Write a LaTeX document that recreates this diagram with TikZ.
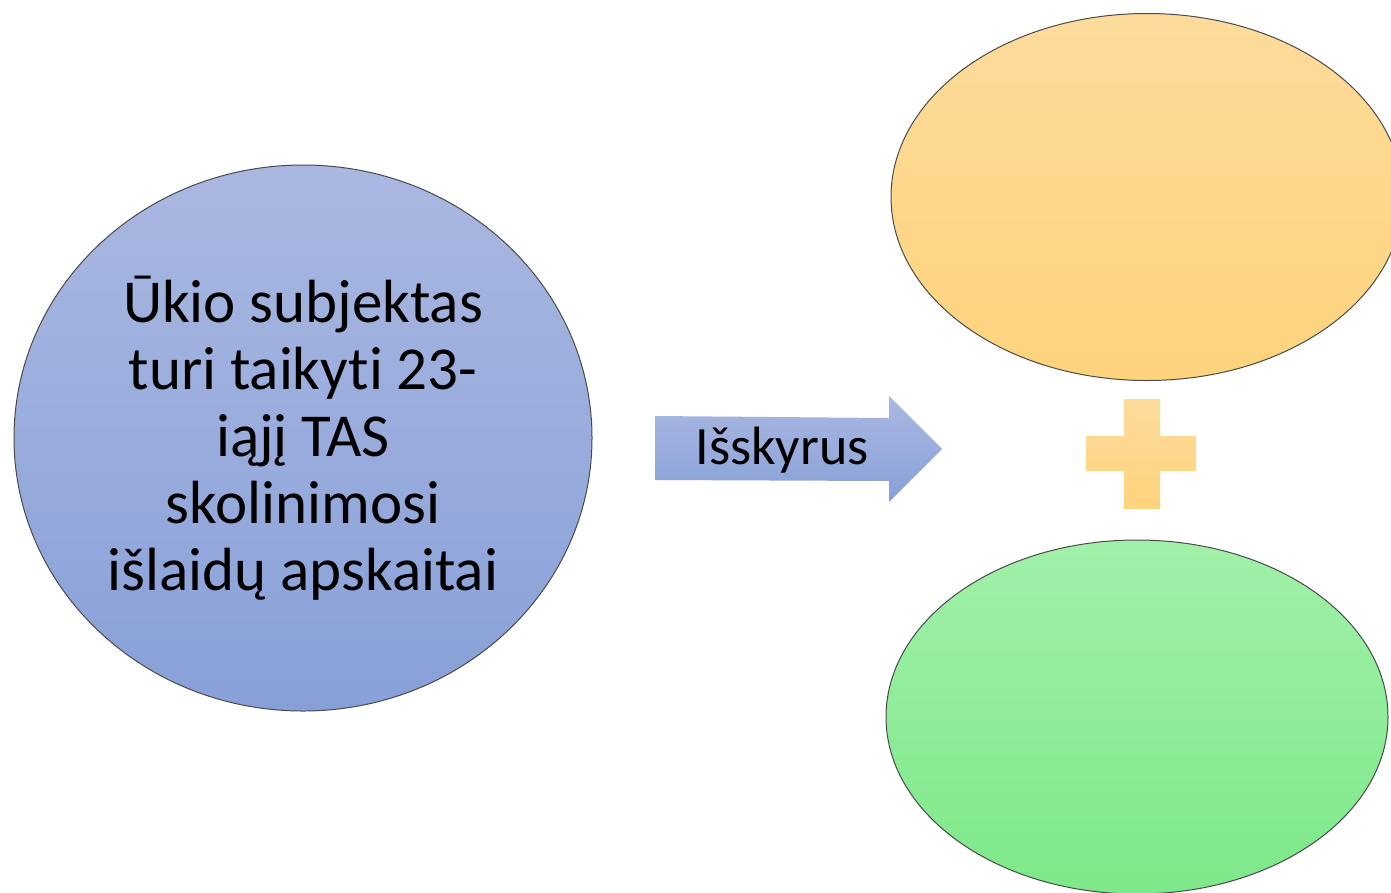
\documentclass[tikz,border=0pt]{standalone}
\usepackage{fontspec}
\setmainfont{Carlito}[Ligatures={NoCommon,NoContextual}]
\usetikzlibrary{shapes.geometric}
\definecolor{blueTop}{HTML}{AAB8E1}
\definecolor{blueBot}{HTML}{88A0D8}
\definecolor{orTop}{HTML}{FDDB9B}
\definecolor{orBot}{HTML}{FDD37C}
\definecolor{grTop}{HTML}{A1F0A9}
\definecolor{grBot}{HTML}{7DE889}
\definecolor{edge}{HTML}{4A4A4A}
\tikzset{
  blob/.style={ellipse, draw=edge, line width=1pt, inner sep=0pt},
  bluefill/.style={top color=blueTop, bottom color=blueBot},
  orfill/.style={top color=orTop, bottom color=orBot},
  grfill/.style={top color=grTop, bottom color=grBot},
  bigtext/.style={font=\fontsize{61}{67}\selectfont, align=center, text=black},
  arrtext/.style={font=\fontsize{54}{62}\selectfont, text=black},
}
\begin{document}
\begin{tikzpicture}[x=1pt,y=-1pt]
\useasboundingbox (0,0) rectangle (1391,892);
% left ellipse
\node[blob, bluefill, minimum width=578pt, minimum height=546pt] (left) at (303,438) {};
\node[bigtext] (lefttext) at (303,438) {Ūkio subjektas\\turi taikyt\kern0pt i 23-\\iąjį TAS\\skolinimosi\\išlaidų apskaitai};
% right ellipses
\node[blob, orfill, minimum width=512pt, minimum height=367pt] (top) at (1147,197) {};
\node[blob, grfill, minimum width=502pt, minimum height=354pt] (bottom) at (1137,717) {};
% arrow
\path[top color=blueTop, bottom color=blueBot]
  (655,416) -- (889,418) -- (889,396) -- (942,449) -- (889,502) -- (889,481) -- (655,480) -- cycle;
\node[arrtext, anchor=base] (arrlabel) at (782,464) {Išskyrus};
% plus sign
\path[top color=orTop, bottom color=orBot]
  (1124,399) -- (1160,399) -- (1160,436) -- (1196,436) -- (1196,471) -- (1160,471) -- (1160,509)
  -- (1124,509) -- (1124,471) -- (1086,471) -- (1086,436) -- (1124,436) -- cycle;
\end{tikzpicture}
\end{document}
